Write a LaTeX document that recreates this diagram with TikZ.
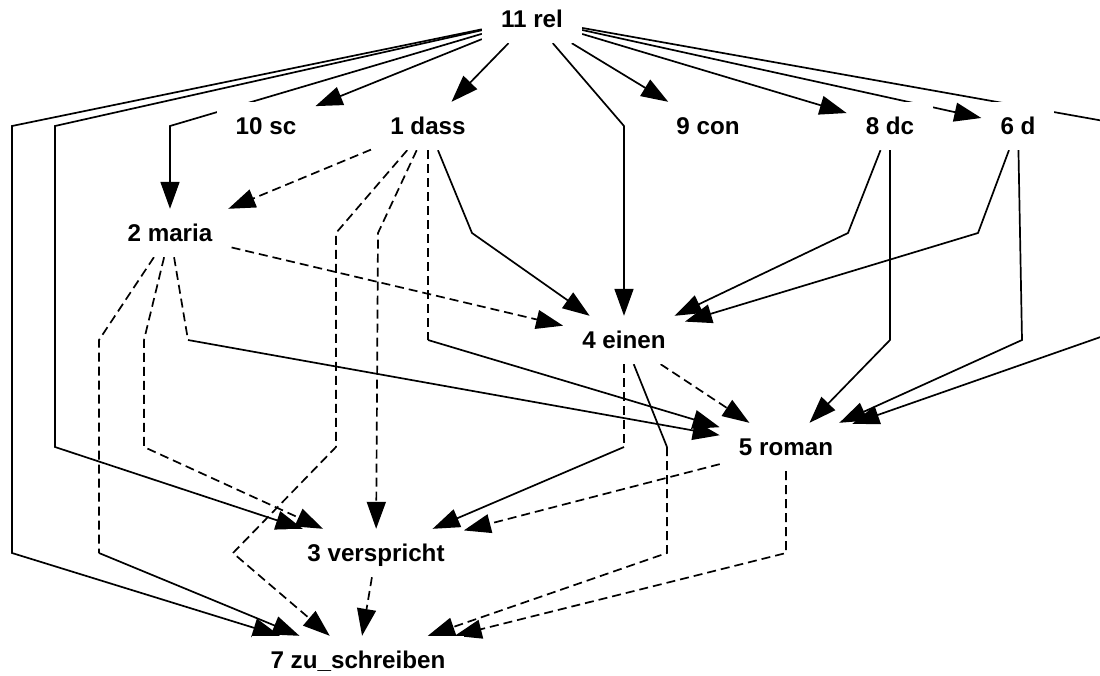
\documentclass[tikz,border=0pt]{standalone}
\usepackage{fontspec}
\setmainfont{Liberation Sans}
\usetikzlibrary{arrows.meta}
\pgfdeclarelayer{bg}
\pgfsetlayers{bg,main}
\begin{document}
\begin{tikzpicture}[x=1pt,y=-1pt,
  lbl/.style={rectangle, fill=white, inner xsep=19pt, inner ysep=0pt, minimum height=48pt,
    text height=17pt, text depth=0pt, font=\fontsize{24.2}{29}\selectfont\bfseries},
  seg/.style={line width=1.7pt},
  edge/.style={seg, -{Triangle[length=27pt,width=19pt]}},
  dsh/.style={dash pattern=on 9pt off 5pt}
]
\useasboundingbox (0,0) rectangle (1100,675);
% nodes
\node[lbl] (rel)   at (532,19)  {11 rel};
\node[lbl] (sc)    at (266,126) {10 sc};
\node[lbl] (dass)  at (428,126) {1 dass};
\node[lbl] (con)   at (708,126) {9 con};
\node[lbl] (dc)    at (890,126) {8 dc};
\node[lbl] (dsix)  at (1018,126) {6 d};
\node[lbl] (maria) at (170,233) {2 maria};
\node[lbl] (einen) at (624,340) {4 einen};
\node[lbl] (roman) at (786,447) {5 roman};
\node[lbl] (versp) at (376,553) {3 verspricht};
\node[lbl] (zu)    at (358,660) {7 zu\_schreiben};
% bend points where the line style changes
\coordinate (fb) at (428,340);
\coordinate (mb) at (99,553);
\coordinate (mc) at (188,340);
\coordinate (nb) at (624,447);
\coordinate (nc) at (667,447);
\begin{pgfonlayer}{bg}
\fill[white] (0,0) rectangle (1100,675);
\clip (0,0) rectangle (1100,675);
% from 11 rel
\draw[edge] (rel) -- (12,126) -- (12,553) -- (zu);
\draw[edge] (rel) -- (55,126) -- (55,447) -- (versp);
\draw[edge] (rel) -- (170,126) -- (maria);
\draw[edge] (rel) -- (sc);
\draw[edge] (rel) -- (dass);
\draw[edge] (rel) -- (624,126) -- (einen);
\draw[edge] (rel) -- (con);
\draw[edge] (rel) -- (dc);
\draw[edge] (rel) -- (dsix);
\draw[edge] (rel) -- (1132,126) -- (1132,326) -- (roman);
% from 1 dass
\draw[edge,dsh] (dass) -- (maria);
\draw[edge,dsh] (dass) -- (336,233) -- (336,447) -- (233,553) -- (zu);
\draw[edge,dsh] (dass) -- (378,233) -- (versp);
\draw[seg,dsh] (dass) -- (fb);
\draw[edge] (fb) -- (roman);
\draw[edge] (dass) -- (472,233) -- (einen);
% from 2 maria
\draw[seg,dsh] (maria) -- (99,340) -- (mb);
\draw[edge] (mb) -- (zu);
\draw[edge,dsh] (maria) -- (144,340) -- (144,447) -- (versp);
\draw[seg,dsh] (maria) -- (mc);
\draw[edge] (mc) -- (roman);
\draw[edge,dsh] (maria) -- (einen);
% from 4 einen
\draw[seg,dsh] (einen) -- (nb);
\draw[edge] (nb) -- (versp);
\draw[seg] (einen) -- (nc);
\draw[edge,dsh] (nc) -- (667,553) -- (zu);
\draw[edge,dsh] (einen) -- (roman);
% from 5 roman
\draw[edge,dsh] (roman) -- (786,553) -- (zu);
\draw[edge,dsh] (roman) -- (versp);
% from 3 verspricht
\draw[edge,dsh] (versp) -- (zu);
% from 8 dc and 6 d
\draw[edge] (dc) -- (848,233) -- (einen);
\draw[edge] (dc) -- (890,340) -- (roman);
\draw[edge] (dsix) -- (978,233) -- (einen);
\draw[edge] (dsix) -- (1022,340) -- (roman);
\end{pgfonlayer}
\end{tikzpicture}
\end{document}
